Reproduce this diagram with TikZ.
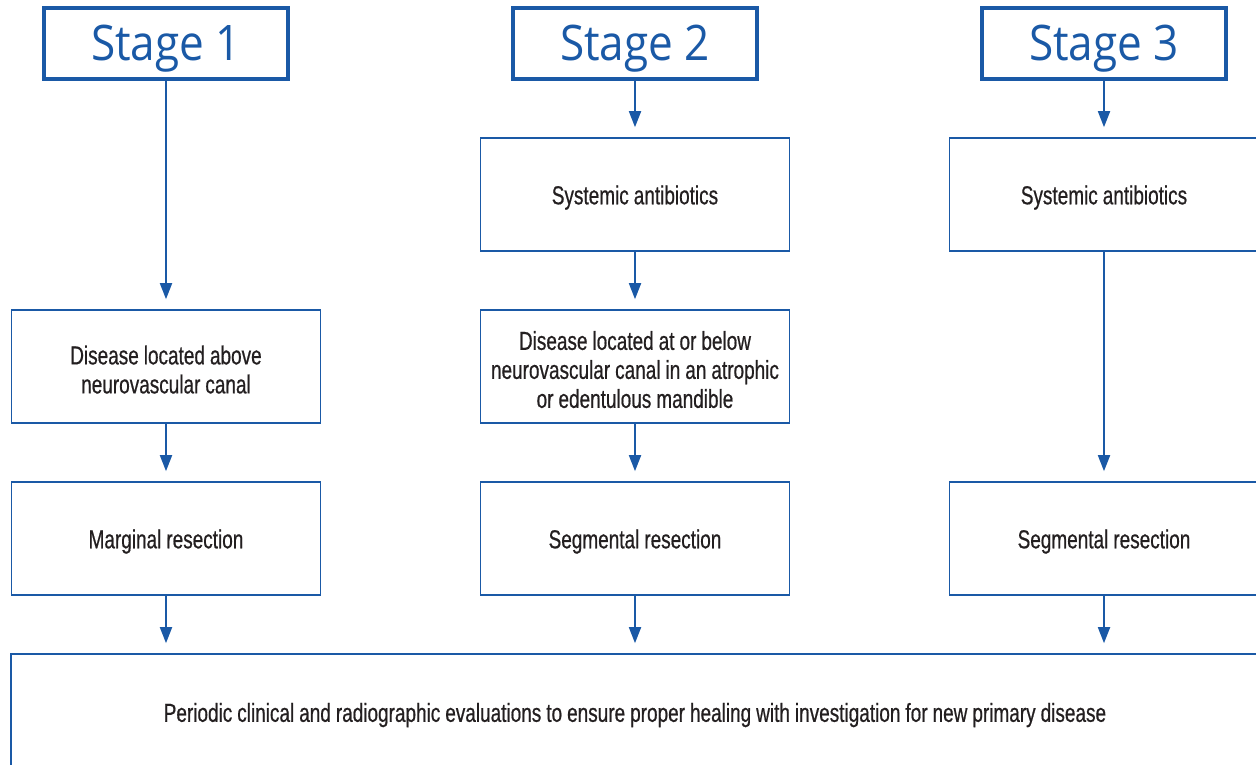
\documentclass[tikz,border=0pt]{standalone}
\usepackage{fontspec}
\setmainfont{Liberation Sans}
\newfontfamily\boxfont[FakeStretch=0.73, FakeBold=0.6]{Liberation Sans}
\newfontfamily\stagefont[FakeStretch=0.9]{Open Sans}
\usetikzlibrary{arrows.meta,positioning,calc}
\definecolor{stageblue}{RGB}{26,89,166}
\definecolor{boxtext}{RGB}{35,31,32}
\newcommand{\boxtextfont}{\boxfont\fontsize{26}{29}\selectfont\spaceskip=5pt plus 1pt minus 1pt\relax}
\tikzstyle{stagebox} = [rectangle, draw=stageblue, line width=3.5pt, minimum width=244pt, minimum height=71pt, text height=35pt, text depth=1pt, text=stageblue, font=\stagefont\fontsize{49}{52}\selectfont]
\tikzstyle{block} = [rectangle, draw=stageblue, line width=1.6pt, minimum width=309pt, minimum height=113pt, text width=300pt, align=flush center, text=boxtext, font=\boxtextfont, execute at begin node={\rule{0pt}{25pt}}]
\tikzstyle{line} = [draw=stageblue, line width=1.8pt, -{Triangle[width=12pt,length=16pt]}, shorten >=10pt]

\begin{document}
\begin{tikzpicture}[x=1pt, y=-1pt]
    \useasboundingbox (0,0) rectangle (1256,764);
    % stages
    \node[stagebox] (stage1) at (166,43.5) {Stage 1};
    \node[stagebox] (stage2) at (635,43.5) {Stage 2};
    \node[stagebox] (stage3) at (1104,43.5) {Stage 3};
    % column 1
    \node[block] (above) at (166,366.5) {Disease located above\\neurovascular canal};
    \node[block] (marginal) at (166,538.5) {Marginal resection};
    % column 2
    \node[block] (anti2) at (635,194.5) {Systemic antibiotics};
    \node[block] (below) at (635,366.5) {Disease located at or below\\neurovascular canal in an atrophic\\or edentulous mandible};
    \node[block] (segment2) at (635,538.5) {Segmental resection};
    % column 3
    \node[block] (anti3) at (1104,194.5) {Systemic antibiotics};
    \node[block] (segment3) at (1104,538.5) {Segmental resection};
    % follow-up
    \node[block, minimum width=1248pt, minimum height=116pt, text width=1200pt] (followup) at (635,712) {Periodic clinical and radiographic evaluations to ensure proper healing with investigation for new primary disease};

    \draw[line] (stage1) -- (above);
    \draw[line] (above) -- (marginal);
    \draw[line] (marginal) -- (marginal |- followup.north);
    \draw[line] (stage2) -- (anti2);
    \draw[line] (anti2) -- (below);
    \draw[line] (below) -- (segment2);
    \draw[line] (segment2) -- (followup);
    \draw[line] (stage3) -- (anti3);
    \draw[line] (anti3) -- (segment3);
    \draw[line] (segment3) -- (segment3 |- followup.north);
\end{tikzpicture}
\end{document}
